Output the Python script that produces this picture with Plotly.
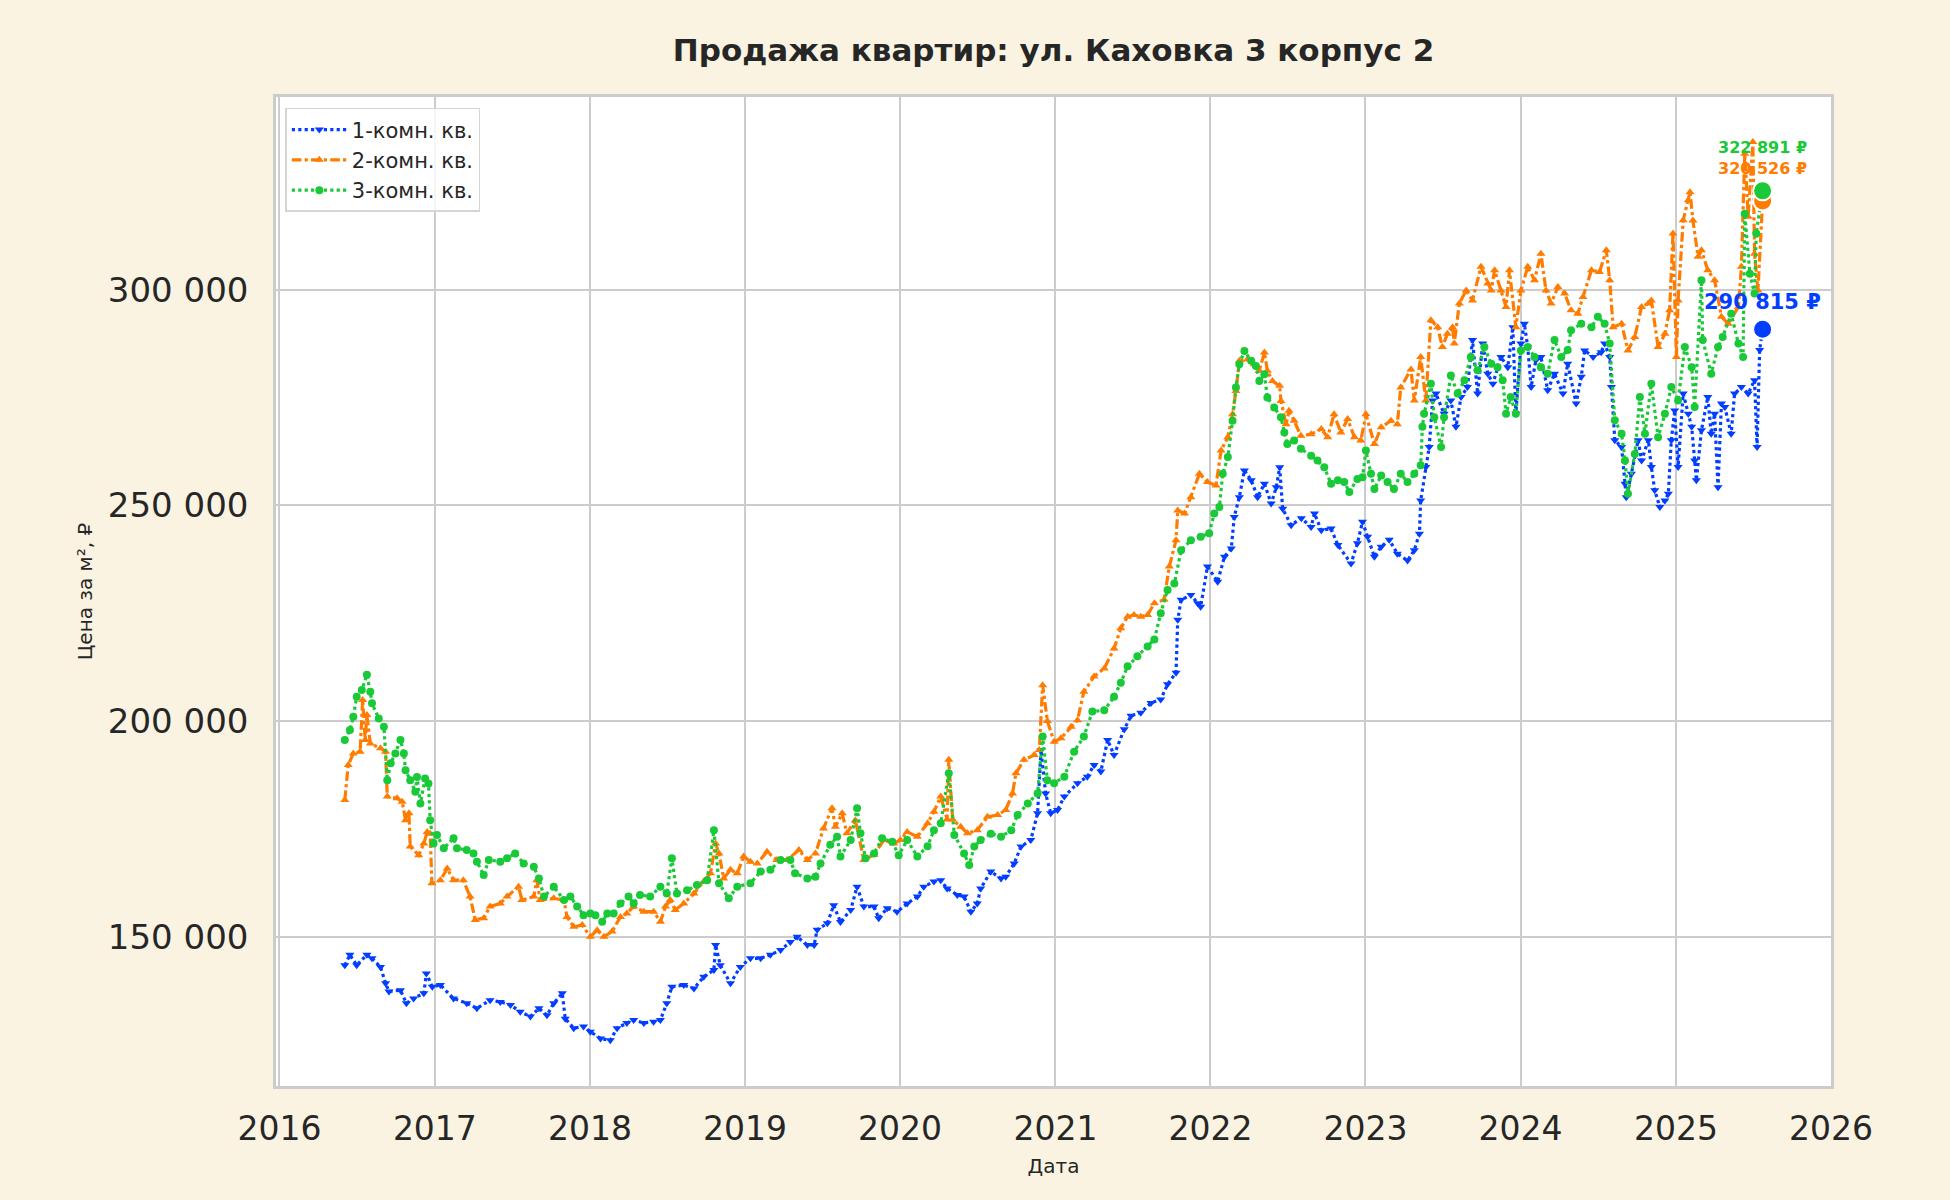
import plotly.graph_objects as go

########## DATA ##########
one_room_dates = [
    "2016-06-03", "2016-06-15", "2016-07-01", "2016-07-25", "2016-08-06", "2016-08-26", "2016-09-07",
    "2016-09-15", "2016-10-12", "2016-10-26", "2016-11-12", "2016-12-06", "2016-12-12", "2016-12-26",
    "2017-01-14", "2017-02-14", "2017-03-17", "2017-04-10", "2017-05-11", "2017-06-04", "2017-06-28",
    "2017-07-21", "2017-08-14", "2017-09-03", "2017-09-22", "2017-10-08", "2017-10-28", "2017-11-04",
    "2017-11-24", "2017-12-17", "2018-01-02", "2018-01-26", "2018-02-18", "2018-03-06", "2018-03-29",
    "2018-04-14", "2018-05-08", "2018-05-31", "2018-06-16", "2018-07-01", "2018-07-13", "2018-08-10",
    "2018-09-03", "2018-09-26", "2018-10-20", "2018-10-24", "2018-11-04", "2018-11-28", "2018-12-21",
    "2019-01-14", "2019-02-07", "2019-03-02", "2019-03-26", "2019-04-18", "2019-05-04", "2019-05-28",
    "2019-06-13", "2019-06-20", "2019-07-14", "2019-07-29", "2019-08-14", "2019-09-07", "2019-09-22",
    "2019-10-08", "2019-11-01", "2019-11-12", "2019-12-02", "2019-12-25", "2020-01-18", "2020-02-11",
    "2020-02-26", "2020-03-21", "2020-04-06", "2020-04-21", "2020-05-15", "2020-05-31", "2020-06-16",
    "2020-07-01", "2020-07-09", "2020-08-02", "2020-08-26", "2020-09-06", "2020-09-26", "2020-10-12",
    "2020-11-04", "2020-11-20", "2020-11-28", "2020-12-09", "2020-12-21", "2021-01-06", "2021-01-22",
    "2021-02-22", "2021-03-17", "2021-04-02", "2021-04-18", "2021-05-04", "2021-05-19", "2021-06-12",
    "2021-06-28", "2021-07-21", "2021-08-14", "2021-09-06", "2021-09-22", "2021-10-12", "2021-10-16",
    "2021-10-24", "2021-11-16", "2021-12-02", "2021-12-09", "2021-12-25", "2022-01-18", "2022-02-03",
    "2022-02-19", "2022-02-26", "2022-03-10", "2022-03-22", "2022-04-07", "2022-04-22", "2022-05-08",
    "2022-05-24", "2022-06-05", "2022-06-13", "2022-06-20", "2022-07-10", "2022-08-03", "2022-08-26",
    "2022-09-03", "2022-09-19", "2022-10-12", "2022-10-28", "2022-11-28", "2022-12-13", "2022-12-25",
    "2023-01-06", "2023-01-22", "2023-02-07", "2023-02-26", "2023-03-17", "2023-04-10", "2023-04-26",
    "2023-05-08", "2023-05-11", "2023-05-23", "2023-05-31", "2023-06-08", "2023-06-16", "2023-07-05",
    "2023-07-21", "2023-08-02", "2023-08-14", "2023-08-29", "2023-09-10", "2023-09-22", "2023-10-04",
    "2023-10-16", "2023-10-28", "2023-11-16", "2023-12-02", "2023-12-14", "2023-12-21", "2024-01-02",
    "2024-01-10", "2024-01-18", "2024-01-26", "2024-02-06", "2024-02-18", "2024-03-05", "2024-03-21",
    "2024-04-10", "2024-04-21", "2024-05-11", "2024-05-23", "2024-05-31", "2024-06-20", "2024-07-09",
    "2024-07-17", "2024-07-29", "2024-08-02", "2024-08-10", "2024-08-26", "2024-09-03", "2024-09-06",
    "2024-09-18", "2024-10-04", "2024-10-12", "2024-10-28", "2024-11-04", "2024-11-12", "2024-11-24",
    "2024-12-06", "2024-12-14", "2024-12-21", "2024-12-29", "2025-01-06", "2025-01-18", "2025-01-30",
    "2025-02-07", "2025-02-14", "2025-02-18", "2025-03-02", "2025-03-17", "2025-03-25", "2025-04-02",
    "2025-04-10", "2025-04-18", "2025-04-26", "2025-05-11", "2025-05-19", "2025-06-04", "2025-06-20",
    "2025-07-05", "2025-07-11", "2025-07-17", "2025-07-24",
]
one_room_prices = [
    143400, 145800, 143400, 145800, 145000, 143000, 139200,
    137300, 137600, 134600, 135700, 136900, 141500, 138400,
    138800, 135700, 134600, 133400, 135300, 134900, 134200,
    132600, 131500, 133400, 131800, 134600, 136900, 131000,
    128800, 129200, 128000, 126400, 126000, 128800, 130000,
    130700, 130000, 130300, 130700, 134600, 138400, 138800,
    138000, 140700, 142300, 148100, 143400, 139200, 143000,
    145000, 145000, 145800, 146900, 148800, 150000, 148100,
    148100, 151600, 153100, 157300, 153400, 156200, 161600,
    157000, 157000, 154300, 156600, 155800, 157700, 159300,
    161600, 162800, 163100, 161200, 159700, 159300, 155800,
    157700, 161200, 165100, 163500, 163900, 167000, 170900,
    172400, 178600, 193300, 183200, 178600, 179400, 182500,
    185600, 187100, 189800, 188300, 195600, 192100, 198100,
    201200, 201900, 204200, 205000, 208500, 211200, 223500,
    228100, 229200, 227300, 226500, 235800, 232300, 238100,
    240000, 247300, 251900, 258100, 255800, 251900, 255000,
    250400, 254200, 258800, 249200, 245400, 247000, 245000,
    248100, 244200, 244600, 240800, 236500, 241200, 246200,
    242700, 238100, 240400, 242000, 238800, 237200, 239600,
    243400, 251100, 258900, 263500, 274300, 275900, 271200,
    274300, 268200, 275100, 277400, 288300, 275900, 287500,
    280500, 278200, 284400, 282000, 291300, 271200, 287500,
    292100, 286700, 277400, 283600, 284400, 276700, 280500,
    275900, 282800, 273600, 279800, 285900, 284400, 285500,
    287500, 284400, 277400, 265100, 263500, 255000, 251900,
    257300, 265100, 260400, 265100, 258900, 253500, 249600,
    251100, 252700, 265100, 272000, 258900, 275900, 271200,
    268200, 260400, 255800, 267400, 275100, 266600, 271200,
    254200, 273600, 272800, 266600, 275900, 277400, 275900,
    279000, 263500, 286000, 290815,
]

two_room_dates = [
    "2016-06-03", "2016-06-11", "2016-06-23", "2016-07-09", "2016-07-15", "2016-07-21", "2016-07-25",
    "2016-08-02", "2016-08-26", "2016-09-07", "2016-09-11", "2016-10-04", "2016-10-16", "2016-10-24",
    "2016-11-01", "2016-11-04", "2016-11-24", "2016-12-06", "2016-12-14", "2016-12-21", "2016-12-25",
    "2017-01-14", "2017-01-30", "2017-02-14", "2017-03-09", "2017-03-25", "2017-04-06", "2017-04-26",
    "2017-05-11", "2017-06-04", "2017-06-20", "2017-07-17", "2017-07-25", "2017-08-22", "2017-08-29",
    "2017-09-06", "2017-10-08", "2017-11-01", "2017-11-08", "2017-11-24", "2017-12-14", "2018-01-02",
    "2018-01-18", "2018-02-03", "2018-02-22", "2018-03-14", "2018-03-29", "2018-04-14", "2018-05-08",
    "2018-05-31", "2018-06-16", "2018-06-28", "2018-07-09", "2018-07-21", "2018-08-10", "2018-09-03",
    "2018-09-26", "2018-10-12", "2018-10-24", "2018-11-01", "2018-11-12", "2018-11-28", "2018-12-14",
    "2018-12-29", "2019-01-14", "2019-01-30", "2019-02-22", "2019-03-17", "2019-04-10", "2019-05-08",
    "2019-05-28", "2019-06-16", "2019-07-05", "2019-07-25", "2019-08-02", "2019-08-18", "2019-08-29",
    "2019-09-18", "2019-10-08", "2019-11-01", "2019-11-24", "2019-12-17", "2020-01-02", "2020-01-18",
    "2020-02-11", "2020-03-06", "2020-03-21", "2020-04-06", "2020-04-21", "2020-04-25", "2020-05-04",
    "2020-05-23", "2020-06-08", "2020-07-01", "2020-07-25", "2020-08-18", "2020-09-06", "2020-09-22",
    "2020-09-30", "2020-10-19", "2020-11-12", "2020-11-24", "2020-12-02", "2020-12-13", "2020-12-29",
    "2021-01-14", "2021-02-07", "2021-02-22", "2021-03-09", "2021-04-02", "2021-04-26", "2021-05-19",
    "2021-06-04", "2021-06-20", "2021-07-05", "2021-07-21", "2021-08-06", "2021-08-22", "2021-09-14",
    "2021-09-26", "2021-10-12", "2021-10-16", "2021-11-01", "2021-11-16", "2021-12-06", "2021-12-25",
    "2022-01-14", "2022-01-26", "2022-02-11", "2022-02-22", "2022-03-02", "2022-03-10", "2022-03-29",
    "2022-04-14", "2022-04-26", "2022-05-08", "2022-05-15", "2022-05-27", "2022-06-13", "2022-06-16",
    "2022-06-28", "2022-07-05", "2022-07-17", "2022-08-02", "2022-08-26", "2022-09-19", "2022-10-04",
    "2022-10-19", "2022-11-04", "2022-11-20", "2022-12-06", "2022-12-21", "2023-01-02", "2023-01-22",
    "2023-02-07", "2023-03-02", "2023-03-17", "2023-03-25", "2023-04-18", "2023-04-26", "2023-05-11",
    "2023-05-23", "2023-06-04", "2023-06-20", "2023-07-01", "2023-07-13", "2023-07-25", "2023-07-29",
    "2023-08-10", "2023-08-26", "2023-09-10", "2023-09-30", "2023-10-16", "2023-10-24", "2023-11-01",
    "2023-11-16", "2023-11-28", "2023-12-06", "2023-12-21", "2024-01-02", "2024-01-18", "2024-02-03",
    "2024-02-18", "2024-03-01", "2024-03-13", "2024-03-29", "2024-04-14", "2024-04-29", "2024-05-15",
    "2024-05-27", "2024-06-16", "2024-07-05", "2024-07-21", "2024-07-29", "2024-08-06", "2024-08-26",
    "2024-09-10", "2024-09-26", "2024-10-12", "2024-10-28", "2024-11-04", "2024-11-20", "2024-12-06",
    "2024-12-17", "2024-12-25", "2025-01-02", "2025-01-06", "2025-01-18", "2025-01-30", "2025-02-03",
    "2025-02-10", "2025-02-22", "2025-03-02", "2025-03-17", "2025-04-02", "2025-04-18", "2025-05-04",
    "2025-05-28", "2025-06-04", "2025-06-12", "2025-06-20", "2025-07-01", "2025-07-05", "2025-07-13",
    "2025-07-24",
]
two_room_prices = [
    181700, 189800, 192500, 192900, 204900, 195600, 201400,
    194800, 193700, 192900, 182500, 182100, 181300, 177000,
    178600, 170900, 168900, 171600, 174300, 173900, 162400,
    163100, 165800, 163100, 163100, 159300, 153900, 154300,
    157000, 157700, 159300, 161600, 158500, 159300, 163100,
    158500, 158900, 158500, 154600, 152300, 152700, 150000,
    151500, 150000, 151200, 154600, 155400, 157000, 155800,
    155800, 153500, 157000, 158500, 156200, 157700, 160000,
    162800, 164700, 171600, 169300, 163500, 165500, 164700,
    168600, 167400, 167000, 169700, 167800, 167800, 170100,
    167800, 169300, 175100, 179800, 175500, 178600, 174000,
    177000, 167800, 169000, 172400, 171600, 172400, 174300,
    173200, 176300, 179000, 182500, 177200, 191000, 177200,
    175500, 174000, 174700, 177800, 178200, 179400, 183200,
    187900, 191000, 192100, 193300, 208300, 200000, 195200,
    196000, 198700, 200200, 206800, 210300, 212200, 216800,
    221500, 224200, 224600, 224200, 224600, 227300, 228100,
    235800, 241900, 248800, 248100, 251900, 257300, 255400,
    254600, 262700, 265800, 271100, 276500, 283500, 283800,
    282700, 281200, 285400, 281200, 278800, 277700, 274200,
    268800, 271900, 269600, 266100, 266500, 267700, 265800,
    271100, 266900, 270000, 265800, 265000, 271100, 264200,
    268100, 269600, 268800, 277300, 281500, 274300, 284400,
    274300, 292900, 291300, 286700, 289800, 291300, 287500,
    296800, 299800, 297500, 305300, 301400, 299800, 304500,
    299800, 296000, 304500, 291300, 299800, 305300, 302200,
    308300, 299800, 296800, 300600, 299100, 295200, 294400,
    298300, 304500, 304100, 309100, 302200, 291300, 292100,
    285900, 289000, 296000, 296800, 297500, 286700, 289800,
    295200, 313000, 284400, 297500, 316100, 320700, 322600,
    316000, 307600, 309100, 304500, 302200, 293700, 292100,
    296000, 305300, 331500, 316900, 334200, 308300, 299800,
    320526,
]

three_room_dates = [
    "2016-06-03", "2016-06-15", "2016-06-23", "2016-07-01", "2016-07-13", "2016-07-25", "2016-08-02",
    "2016-08-06", "2016-08-22", "2016-09-03", "2016-09-11", "2016-09-19", "2016-09-30", "2016-10-12",
    "2016-10-20", "2016-10-24", "2016-11-04", "2016-11-16", "2016-11-20", "2016-11-28", "2016-12-09",
    "2016-12-17", "2016-12-21", "2016-12-29", "2017-01-06", "2017-01-22", "2017-02-14", "2017-02-22",
    "2017-03-17", "2017-04-02", "2017-04-10", "2017-04-26", "2017-05-08", "2017-06-04", "2017-06-20",
    "2017-07-09", "2017-07-29", "2017-08-22", "2017-09-03", "2017-09-15", "2017-10-08", "2017-11-01",
    "2017-11-16", "2017-12-02", "2017-12-17", "2018-01-02", "2018-01-14", "2018-01-30", "2018-02-11",
    "2018-02-26", "2018-03-14", "2018-04-02", "2018-04-14", "2018-04-29", "2018-05-23", "2018-06-16",
    "2018-07-01", "2018-07-13", "2018-07-25", "2018-08-18", "2018-09-10", "2018-10-04", "2018-10-20",
    "2018-11-01", "2018-11-24", "2018-12-14", "2019-01-14", "2019-02-07", "2019-03-02", "2019-03-26",
    "2019-04-18", "2019-04-29", "2019-05-28", "2019-06-16", "2019-06-28", "2019-07-21", "2019-08-06",
    "2019-08-14", "2019-09-07", "2019-09-22", "2019-09-30", "2019-10-12", "2019-11-01", "2019-11-20",
    "2019-12-14", "2019-12-29", "2020-01-18", "2020-02-11", "2020-03-06", "2020-03-21", "2020-04-06",
    "2020-04-25", "2020-05-08", "2020-05-31", "2020-06-12", "2020-06-24", "2020-07-09", "2020-08-02",
    "2020-08-26", "2020-09-19", "2020-10-04", "2020-10-28", "2020-11-20", "2020-12-02", "2020-12-13",
    "2020-12-29", "2021-01-22", "2021-02-14", "2021-03-09", "2021-03-29", "2021-04-26", "2021-05-19",
    "2021-06-04", "2021-06-20", "2021-07-13", "2021-08-06", "2021-08-22", "2021-09-06", "2021-09-22",
    "2021-10-08", "2021-10-24", "2021-11-16", "2021-12-09", "2021-12-29", "2022-01-10", "2022-01-22",
    "2022-01-30", "2022-02-11", "2022-02-22", "2022-03-02", "2022-03-10", "2022-03-22", "2022-04-07",
    "2022-04-18", "2022-04-26", "2022-05-08", "2022-05-15", "2022-05-31", "2022-06-16", "2022-06-24",
    "2022-07-01", "2022-07-17", "2022-08-02", "2022-08-26", "2022-09-10", "2022-09-26", "2022-10-12",
    "2022-10-28", "2022-11-12", "2022-11-24", "2022-12-13", "2022-12-25", "2023-01-02", "2023-01-14",
    "2023-01-22", "2023-02-07", "2023-02-22", "2023-03-09", "2023-03-25", "2023-04-10", "2023-04-26",
    "2023-05-11", "2023-05-15", "2023-05-19", "2023-06-04", "2023-06-12", "2023-06-28", "2023-07-05",
    "2023-07-21", "2023-08-06", "2023-08-22", "2023-09-06", "2023-09-22", "2023-10-08", "2023-10-24",
    "2023-11-08", "2023-11-20", "2023-11-28", "2023-12-09", "2023-12-21", "2024-01-02", "2024-01-18",
    "2024-02-03", "2024-02-18", "2024-03-05", "2024-03-21", "2024-04-06", "2024-04-21", "2024-04-29",
    "2024-05-23", "2024-06-16", "2024-07-01", "2024-07-17", "2024-07-29", "2024-08-10", "2024-08-26",
    "2024-09-03", "2024-09-10", "2024-09-26", "2024-10-08", "2024-10-20", "2024-11-04", "2024-11-20",
    "2024-12-06", "2024-12-21", "2025-01-06", "2025-01-22", "2025-02-07", "2025-02-14", "2025-03-02",
    "2025-03-05", "2025-03-25", "2025-04-10", "2025-04-21", "2025-05-11", "2025-05-28", "2025-06-08",
    "2025-06-12", "2025-06-24", "2025-07-05", "2025-07-09", "2025-07-24",
]
three_room_prices = [
    195600, 197900, 201000, 205600, 207200, 210700, 206800,
    204100, 200600, 198700, 186300, 190200, 192500, 195600,
    192500, 188600, 186300, 183600, 187000, 180900, 186700,
    185500, 177000, 171600, 173600, 170500, 172800, 170500,
    170100, 169300, 167400, 164300, 167800, 167400, 168200,
    169300, 167000, 166200, 163500, 159300, 161600, 158500,
    159300, 157000, 155000, 155400, 155000, 153500, 155400,
    155400, 157700, 159300, 157700, 159700, 159300, 161600,
    160000, 168200, 160000, 160800, 162000, 163100, 174700,
    162400, 158900, 161600, 162400, 165100, 165500, 167800,
    167800, 164700, 163500, 163900, 167000, 171300, 173200,
    168600, 172400, 179800, 174000, 168200, 169300, 172800,
    172000, 168900, 172400, 168600, 171000, 174700, 176300,
    187900, 173600, 169300, 166600, 170900, 172400, 173900,
    173200, 174700, 178200, 180900, 183200, 196400, 186300,
    185600, 187100, 192900, 196400, 202200, 202500, 205600,
    208900, 212700, 215000, 217300, 218900, 225000, 230400,
    231900, 239600, 241900, 242700, 243500, 248100, 249600,
    257300, 261200, 269600, 277300, 282700, 285800, 283500,
    282300, 278800, 280400, 275000, 272700, 270400, 266900,
    264200, 265000, 263100, 261500, 260400, 258800, 255000,
    255800, 255400, 253100, 256100, 256500, 262700, 257300,
    253800, 256900, 255400, 253800, 257300, 255400, 257300,
    259300, 268200, 271200, 278200, 270400, 263500, 270400,
    280100, 275900, 279000, 284400, 281300, 286700, 282800,
    282000, 279000, 271200, 275100, 271200, 285900, 286700,
    284400, 282000, 280500, 288300, 284400, 286000, 290600,
    292100, 291300, 293700, 292100, 287500, 269700, 266600,
    260400, 252700, 261900, 275100, 266600, 278200, 265800,
    271200, 277400, 274300, 286700, 282000, 272800, 302200,
    288300, 280500, 286700, 289000, 294400, 287500, 284400,
    317600, 303700, 299100, 313000, 322891,
]

series_names = ["1-комн. кв.", "2-комн. кв.", "3-комн. кв."]
series_colors = ["#023eff", "#ff7c00", "#1ac938"]

chart_title = "Продажа квартир: ул. Каховка 3 корпус 2"
y_ticks = [150000, 200000, 250000, 300000]

########## FIGURE ##########
fig = go.Figure()

styles = [("dot", "triangle-down"), ("dashdot", "triangle-up"), ("dot", "circle")]
all_series = [
    (one_room_dates, one_room_prices),
    (two_room_dates, two_room_prices),
    (three_room_dates, three_room_prices),
]

for (dates, prices), name, color, (dash, symbol) in zip(all_series, series_names, series_colors, styles):
    fig.add_trace(go.Scatter(
        x=dates, y=prices, mode="lines+markers", name=name,
        line=dict(color=color, width=3.2, dash=dash),
        marker=dict(symbol=symbol, size=8, color=color),
    ))

# big dots on the latest values
for (dates, prices), color in zip(all_series, series_colors):
    fig.add_trace(go.Scatter(
        x=[dates[-1]], y=[prices[-1]], mode="markers", showlegend=False,
        marker=dict(size=19, color=color, line=dict(color="white", width=2)),
    ))

# labels of the latest values
label_shift = [27, 33, 43]
label_size = [21, 16, 16]
for (dates, prices), color, shift, size in zip(all_series, series_colors, label_shift, label_size):
    txt = "{:,}".format(prices[-1]).replace(",", " ") + " ₽"
    fig.add_annotation(
        x=dates[-1], y=prices[-1], text="<b>" + txt + "</b>", showarrow=False,
        xanchor="center", yanchor="middle", yshift=shift,
        font=dict(color=color, size=size, family="DejaVu Sans"),
    )

fig.update_layout(
    width=1950, height=1200,
    margin=dict(l=276, r=119, t=97, b=114),
    paper_bgcolor="#faf3e1",
    plot_bgcolor="white",
    font=dict(family="DejaVu Sans", color="#262626"),
    separators=". ",
    title=dict(
        text="<b>" + chart_title + "</b>", x=0.5, xref="paper", xanchor="center",
        y=1 - 50 / 1200, yref="container", yanchor="middle",
        font=dict(size=31, color="#262626"),
    ),
    legend=dict(
        x=0.006, y=0.989, xanchor="left", yanchor="top",
        bgcolor="rgba(255,255,255,0.8)", bordercolor="#d5d5d5", borderwidth=1.5,
        font=dict(size=21, color="#262626"), itemwidth=55,
    ),
    showlegend=True,
)

fig.update_xaxes(
    range=["2015-12-24", "2026-01-01"],
    tick0="2016-01-01", dtick="M12", tickformat="%Y",
    showgrid=True, gridcolor="#cccccc", gridwidth=1.5,
    showline=True, mirror=True, linecolor="#cccccc", linewidth=2.5,
    zeroline=False, ticks="", ticklabelstandoff=12,
    tickfont=dict(size=33, color="#262626"),
    title=dict(text="Дата", font=dict(size=20, color="#262626"), standoff=12),
)
fig.update_yaxes(
    range=[115400, 344650],
    tickvals=y_ticks, tickformat=",d",
    showgrid=True, gridcolor="#cccccc", gridwidth=1.5,
    showline=True, mirror=True, linecolor="#cccccc", linewidth=2.5,
    zeroline=False, ticks="", ticklabelstandoff=18,
    tickfont=dict(size=34, color="#262626"),
    title=dict(text="Цена за м², ₽", font=dict(size=20, color="#262626"), standoff=10),
)

# page has no body margin so the figure fills the window like the original
fig.write_html("out.html", config={"displayModeBar": False},
               post_script="document.body.style.margin = '0';")
